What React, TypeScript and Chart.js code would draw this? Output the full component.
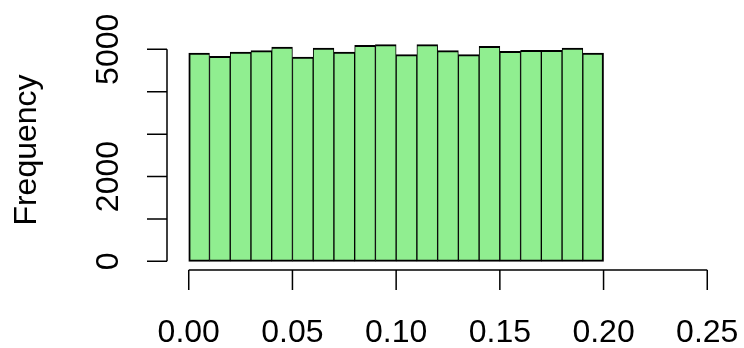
import React, { useEffect, useRef } from "react";
import { Chart, registerables } from "chart.js";

Chart.register(...registerables);

const binStarts = [0, 0.01, 0.02, 0.03, 0.04, 0.05, 0.06, 0.07, 0.08, 0.09, 0.1, 0.11, 0.12, 0.13, 0.14, 0.15, 0.16, 0.17, 0.18, 0.19];
const binWidth = 0.01;
const counts = [4914, 4835, 4937, 4969, 5055, 4819, 5031, 4937, 5094, 5110, 4874, 5110, 4969, 4874, 5071, 4953, 4976, 4976, 5031, 4914];
const xTicks = [0, 0.05, 0.1, 0.15, 0.2, 0.25];
const xTickLabels = ["0.00", "0.05", "0.10", "0.15", "0.20", "0.25"];
const yTicks = [0, 1000, 2000, 3000, 4000, 5000];
const yTickLabels = ["0", "1000", "2000", "3000", "4000", "5000"];
const yTitle = "Frequency";

const FONT = "32px 'Liberation Sans', Arial, Helvetica, sans-serif";

const rAxes = {
  id: "rAxes",
  afterDraw(chart: any) {
    const { ctx, chartArea } = chart;
    const xs = chart.scales.x;
    const ys = chart.scales.y;
    ctx.save();
    ctx.strokeStyle = "#000";
    ctx.fillStyle = "#000";
    ctx.lineWidth = 1.5;
    ctx.font = FONT;
    const gap = ctx.measureText("m").width;

    // x axis
    const axisY = chartArea.bottom;
    const xa = xs.getPixelForValue(xTicks[0]);
    const xb = xs.getPixelForValue(xTicks[xTicks.length - 1]);
    ctx.beginPath();
    ctx.moveTo(xa, axisY);
    ctx.lineTo(xb, axisY);
    xTicks.forEach((v) => {
      const p = xs.getPixelForValue(v);
      ctx.moveTo(p, axisY);
      ctx.lineTo(p, axisY + 20);
    });
    ctx.stroke();
    ctx.textAlign = "center";
    ctx.textBaseline = "alphabetic";
    let lastRight = -Infinity;
    xTicks.forEach((v, i) => {
      const p = xs.getPixelForValue(v);
      const w = ctx.measureText(xTickLabels[i]).width;
      if (p - w / 2 < lastRight + gap) return;
      ctx.fillText(xTickLabels[i], p, axisY + 72);
      lastRight = p + w / 2;
    });

    // y axis
    const axisX = chartArea.left - 1;
    const ya = ys.getPixelForValue(yTicks[0]);
    const yb = ys.getPixelForValue(yTicks[yTicks.length - 1]);
    ctx.beginPath();
    ctx.moveTo(axisX, ya);
    ctx.lineTo(axisX, yb);
    yTicks.forEach((v) => {
      const p = ys.getPixelForValue(v);
      ctx.moveTo(axisX, p);
      ctx.lineTo(axisX - 20, p);
    });
    ctx.stroke();
    let lastTop = Infinity;
    yTicks.forEach((v, i) => {
      const p = ys.getPixelForValue(v);
      const w = ctx.measureText(yTickLabels[i]).width;
      if (p + w / 2 > lastTop - gap) return;
      ctx.save();
      ctx.translate(axisX - 49, p);
      ctx.rotate(-Math.PI / 2);
      ctx.fillText(yTickLabels[i], 0, 0);
      ctx.restore();
      lastTop = p - w / 2;
    });

    // y title
    ctx.save();
    ctx.translate(36, (chartArea.top + chartArea.bottom) / 2 - 3);
    ctx.rotate(-Math.PI / 2);
    ctx.fillText(yTitle, 0, 0);
    ctx.restore();

    ctx.restore();
  },
};

export default function App() {
  const ref = useRef<HTMLCanvasElement>(null);
  useEffect(() => {
    if (!ref.current) return;
    const n = counts.length;
    const chart = new Chart(ref.current, {
      type: "bar",
      data: {
        datasets: [
          {
            data: binStarts.map((s, i) => ({ x: s + binWidth / 2, y: counts[i] })),
            backgroundColor: "#90EE90",
            borderColor: "#000000",
            borderWidth: (c: any) => ({
              top: 2,
              bottom: 2,
              left: c.dataIndex === 0 ? 2 : 1,
              right: c.dataIndex === n - 1 ? 2 : 1,
            }),
            borderSkipped: false,
            barPercentage: 1,
            categoryPercentage: 1,
          } as any,
        ],
      },
      options: {
        animation: false,
        responsive: true,
        maintainAspectRatio: false,
        layout: { padding: { left: 168, right: 16, top: 36, bottom: 78 } },
        plugins: { legend: { display: false }, tooltip: { enabled: false } },
        scales: {
          x: {
            type: "linear",
            display: false,
            offset: false,
            min: -0.01,
            max: 0.26,
            afterBuildTicks: (s: any) => {
              s.ticks = xTicks.map((v) => ({ value: v }));
            },
          },
          y: {
            type: "linear",
            display: false,
            min: -204,
            max: 5314,
          },
        },
      },
      plugins: [rAxes],
    });
    return () => chart.destroy();
  }, []);
  return (
    <div style={{ position: "absolute", left: 0, top: 0, width: 744, height: 348, background: "#fff" }}>
      <canvas ref={ref} />
    </div>
  );
}
